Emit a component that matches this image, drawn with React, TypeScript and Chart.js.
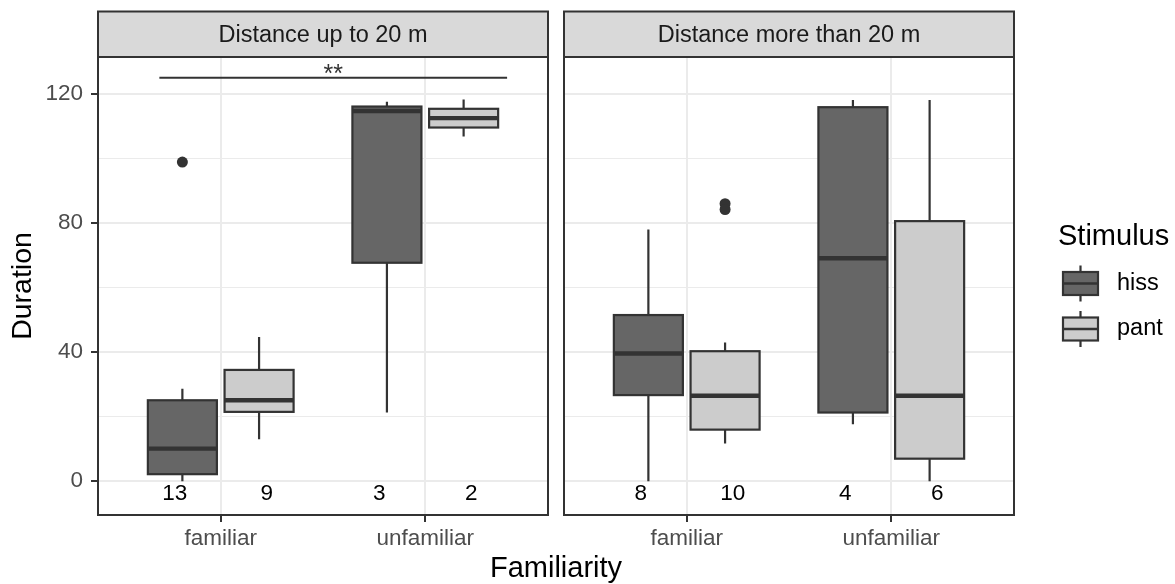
import React, { useEffect, useRef } from 'react';
import { Chart, registerables } from 'chart.js';

Chart.register(...registerables);

// ---------- data ----------
const familiarity = ['familiar', 'unfamiliar'];
const stimulus = ['hiss', 'pant'];
const facets = ['Distance up to 20 m', 'Distance more than 20 m'];

// five-number summaries per familiarity: [lower whisker, Q1, median, Q3, upper whisker]
const hissNear = [
  [0, 2.2, 10.1, 25.1, 28.7],
  [21.3, 67.7, 114.7, 116.1, 117.6],
];
const pantNear = [
  [13.0, 21.5, 25.1, 34.5, 44.7],
  [106.8, 109.6, 112.5, 115.4, 118.3],
];
const hissFar = [
  [0, 26.7, 39.6, 51.5, 78.0],
  [17.7, 21.3, 69.1, 115.9, 118.1],
];
const pantFar = [
  [11.7, 16.0, 26.5, 40.3, 43.0],
  [0, 7.0, 26.5, 80.6, 118.1],
];

// outliers: [familiarity index, stimulus index, value]
const outliersNear = [[0, 0, 98.9]];
const outliersFar = [[0, 1, 86.0], [0, 1, 84.2]];

// sample sizes per familiarity
const hissCountNear = [13, 3];
const pantCountNear = [9, 2];
const hissCountFar = [8, 4];
const pantCountFar = [10, 6];

const yTicks = [0, 40, 80, 120];
const yMinorTicks = [20, 60, 100];
const sigLabel = '**';
const sigFrom = 0.7;
const sigTo = 2.4;
const sigY = 125;
const countY = -4;

// ---------- style ----------
const FONT = '"Liberation Sans", Arial, Helvetica, sans-serif';
const DARK = '#333333';
const FILLS = ['#666666', '#CCCCCC'];
const DODGE = 0.1875;
const HALF_BOX = 0.16875;
const LABEL_DODGE = 0.225;

function drawBox(ctx: CanvasRenderingContext2D, xl: number, xr: number, yLow: number, yQ1: number, yMed: number, yQ3: number, yHigh: number, fill: string, medW: number) {
  const xc = (xl + xr) / 2;
  ctx.strokeStyle = DARK;
  ctx.lineWidth = 2.2;
  ctx.lineCap = 'butt';
  ctx.beginPath();
  ctx.moveTo(xc, yHigh);
  ctx.lineTo(xc, yQ3);
  ctx.moveTo(xc, yQ1);
  ctx.lineTo(xc, yLow);
  ctx.stroke();
  ctx.fillStyle = fill;
  ctx.fillRect(xl, yQ3, xr - xl, yQ1 - yQ3);
  ctx.strokeRect(xl, yQ3, xr - xl, yQ1 - yQ3);
  ctx.lineWidth = medW;
  ctx.beginPath();
  ctx.moveTo(xl, yMed);
  ctx.lineTo(xr, yMed);
  ctx.stroke();
}

const facetPlugin = {
  id: 'facet',
  beforeDatasetsDraw(chart: any, _args: any, opts: any) {
    const ctx = chart.ctx;
    const xs = chart.scales.x;
    const ys = chart.scales.y;
    ctx.save();
    opts.stats.forEach((series: number[][], s: number) => {
      series.forEach((st: number[], c: number) => {
        const center = c + 1 + (s === 0 ? -DODGE : DODGE);
        const xl = xs.getPixelForValue(center - HALF_BOX);
        const xr = xs.getPixelForValue(center + HALF_BOX);
        drawBox(ctx, xl, xr, ys.getPixelForValue(st[0]), ys.getPixelForValue(st[1]), ys.getPixelForValue(st[2]), ys.getPixelForValue(st[3]), ys.getPixelForValue(st[4]), FILLS[s], 4.4);
      });
    });
    ctx.restore();
  },
  afterDraw(chart: any, _args: any, opts: any) {
    const ctx = chart.ctx;
    const xs = chart.scales.x;
    const ys = chart.scales.y;
    const a = chart.chartArea;
    ctx.save();
    // counts
    ctx.fillStyle = '#000000';
    ctx.font = `22.5px ${FONT}`;
    ctx.textAlign = 'center';
    ctx.textBaseline = 'middle';
    opts.counts.forEach((cnt: number[], s: number) => {
      cnt.forEach((n: number, c: number) => {
        const xv = c + 1 + (s === 0 ? -LABEL_DODGE : LABEL_DODGE);
        ctx.fillText(String(n), xs.getPixelForValue(xv), ys.getPixelForValue(countY));
      });
    });
    // significance
    if (opts.sig) {
      const yy = ys.getPixelForValue(sigY);
      ctx.strokeStyle = DARK;
      ctx.lineWidth = 2;
      ctx.beginPath();
      ctx.moveTo(xs.getPixelForValue(sigFrom), yy);
      ctx.lineTo(xs.getPixelForValue(sigTo), yy);
      ctx.stroke();
      ctx.fillStyle = DARK;
      ctx.font = `25px ${FONT}`;
      ctx.textBaseline = 'alphabetic';
      ctx.fillText(sigLabel, xs.getPixelForValue((sigFrom + sigTo) / 2), yy + 4);
    }
    // panel border
    ctx.strokeStyle = DARK;
    ctx.lineWidth = 2;
    ctx.strokeRect(a.left, a.top, a.right - a.left, a.bottom - a.top);
    // strip
    const stripTop = 11.5;
    ctx.fillStyle = '#D9D9D9';
    ctx.fillRect(a.left, stripTop, a.right - a.left, a.top - stripTop);
    ctx.strokeRect(a.left, stripTop, a.right - a.left, a.top - stripTop);
    ctx.fillStyle = '#1A1A1A';
    ctx.font = `23.5px ${FONT}`;
    ctx.textAlign = 'center';
    ctx.textBaseline = 'middle';
    ctx.fillText(opts.strip, (a.left + a.right) / 2, (stripTop + a.top) / 2 + 1);

    if (opts.yTitle) {
      ctx.save();
      ctx.translate(23, (a.top + a.bottom) / 2);
      ctx.rotate(-Math.PI / 2);
      ctx.fillStyle = '#000000';
      ctx.font = `28.5px ${FONT}`;
      ctx.textAlign = 'center';
      ctx.textBaseline = 'middle';
      ctx.fillText('Duration', 0, 0);
      ctx.restore();
    }
    if (opts.legend) {
      // x title
      ctx.fillStyle = '#000000';
      ctx.font = `29px ${FONT}`;
      ctx.textAlign = 'center';
      ctx.textBaseline = 'alphabetic';
      ctx.fillText('Familiarity', 556, 577);
      // legend
      ctx.textAlign = 'left';
      ctx.fillText('Stimulus', 1058, 245);
      const keyL = 1063;
      const keyR = 1098;
      const centers = [283.5, 329];
      stimulus.forEach((name, s) => {
        const cy = centers[s];
        drawBox(ctx, keyL, keyR, cy + 18, cy + 11.5, cy, cy - 11.5, cy - 18, FILLS[s], 2.4);
        ctx.fillStyle = '#000000';
        ctx.font = `23.5px ${FONT}`;
        ctx.textBaseline = 'middle';
        ctx.fillText(name, 1117, cy);
      });
    }
    ctx.restore();
  },
};

function makeConfig(index: number): any {
  const near = index === 0;
  const stats = near ? [hissNear, pantNear] : [hissFar, pantFar];
  const counts = near ? [hissCountNear, pantCountNear] : [hissCountFar, pantCountFar];
  const outl = near ? outliersNear : outliersFar;
  const points = outl.map(([c, s, v]) => ({ x: c + 1 + (s === 0 ? -DODGE : DODGE), y: v }));
  const allTicks = [...yTicks, ...yMinorTicks].sort((p, q) => p - q);
  const isMajor = (v: number) => yTicks.includes(v);
  return {
    type: 'scatter',
    data: {
      datasets: [
        {
          label: 'outliers',
          data: points,
          pointRadius: 5.5,
          pointBackgroundColor: DARK,
          pointBorderWidth: 0,
          pointHoverRadius: 5.5,
        },
      ],
    },
    options: {
      animation: false,
      responsive: false,
      devicePixelRatio: 1,
      events: [],
      layout: {
        padding: near ? { left: 0, right: 627, top: 57, bottom: 0 } : { left: 564, right: 161, top: 57, bottom: 0 },
      },
      plugins: {
        legend: { display: false },
        tooltip: { enabled: false },
        facet: {
          stats,
          counts,
          strip: facets[index],
          sig: near,
          yTitle: near,
          legend: !near,
        },
      },
      scales: {
        x: {
          type: 'linear',
          min: 0.4,
          max: 2.6,
          afterBuildTicks: (s: any) => {
            s.ticks = familiarity.map((_, i) => ({ value: i + 1 }));
          },
          afterFit: (s: any) => {
            s.height = 69;
          },
          ticks: {
            callback: (v: number) => familiarity[Math.round(v) - 1] ?? '',
            font: { family: FONT, size: 22.5 },
            color: '#4D4D4D',
            padding: 3,
            autoSkip: false,
            maxRotation: 0,
          },
          grid: {
            color: '#EBEBEB',
            lineWidth: 2,
            tickLength: 7,
            tickColor: DARK,
            tickWidth: 2,
          },
          border: { display: false },
        },
        y: {
          type: 'linear',
          min: -10.45,
          max: 131.45,
          afterBuildTicks: (s: any) => {
            s.ticks = allTicks.map((v) => ({ value: v }));
          },
          afterFit: (s: any) => {
            s.width = near ? 98 : 0;
          },
          ticks: {
            display: near,
            callback: (v: number) => (isMajor(v) ? String(v) : ''),
            font: { family: FONT, size: 22.5 },
            color: '#4D4D4D',
            padding: 8,
            autoSkip: false,
          },
          grid: {
            color: '#EBEBEB',
            lineWidth: (c: any) => (c.tick && isMajor(c.tick.value) ? 2 : 1),
            drawTicks: near,
            tickLength: 7,
            tickColor: (c: any) => (c.tick && isMajor(c.tick.value) ? DARK : 'rgba(0,0,0,0)'),
            tickWidth: 2,
          },
          border: { display: false },
        },
      },
    },
    plugins: [facetPlugin],
  };
}

export default function App() {
  const leftRef = useRef<HTMLCanvasElement>(null);
  const rightRef = useRef<HTMLCanvasElement>(null);
  useEffect(() => {
    const c1 = new Chart(leftRef.current as HTMLCanvasElement, makeConfig(0));
    const c2 = new Chart(rightRef.current as HTMLCanvasElement, makeConfig(1));
    return () => {
      c1.destroy();
      c2.destroy();
    };
  }, []);
  const style: React.CSSProperties = { position: 'absolute', left: 0, top: 0, width: 1175, height: 584 };
  return (
    <div style={{ position: 'absolute', left: 0, top: 0, width: 1175, height: 584, background: '#FFFFFF' }}>
      <canvas ref={leftRef} width={1175} height={584} style={style} />
      <canvas ref={rightRef} width={1175} height={584} style={style} />
    </div>
  );
}
